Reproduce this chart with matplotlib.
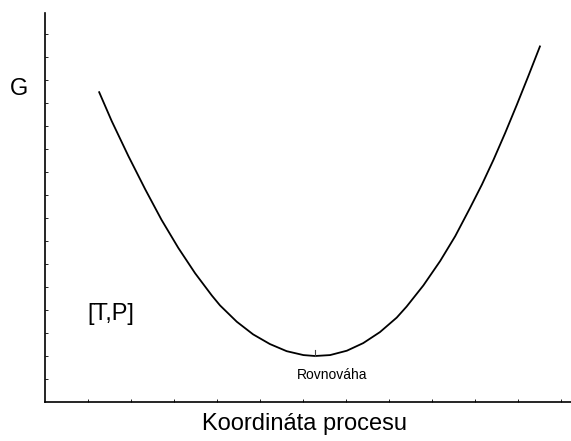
import matplotlib
matplotlib.use('Agg')
from matplotlib import pyplot as plt

plt.rcParams['font.family'] = ['Liberation Sans', 'DejaVu Sans']

# curve (process coordinate, G)
coord = [1.26, 1.55, 1.94, 2.33, 2.71, 3.10, 3.49, 3.88, 4.07, 4.46, 4.84, 5.23, 5.62, 6.01,
         6.28, 6.63, 7.02, 7.40, 7.79, 8.18, 8.41, 8.80, 9.19, 9.54, 9.88, 10.16, 10.43,
         10.70, 10.97, 11.24, 11.51]
gibbs = [13.47, 12.22, 10.69, 9.25, 7.92, 6.70, 5.60, 4.63, 4.20, 3.49, 2.94, 2.52, 2.21, 2.04,
         2.00, 2.04, 2.23, 2.56, 3.04, 3.67, 4.15, 5.07, 6.13, 7.21, 8.42, 9.45, 10.53,
         11.69, 12.91, 14.17, 15.46]

eq_x = 6.28
eq_y = 2.00

W, H = 571, 441
fig = plt.figure(figsize=(W / 100, H / 100), dpi=100)
ax = fig.add_axes([45 / W, (H - 402) / H, (W - 45) / W, (402 - 13) / H])

ax.plot(coord, gibbs, color='black', linewidth=1.3, solid_joinstyle='round')
# small mark at the equilibrium point
ax.plot([eq_x, eq_x], [eq_y, eq_y + 0.27], color='#444444', linewidth=0.8)

ax.set_xlim(0, (W - 45) / 43)
ax.set_ylim(0, (402 - 13) / 23)
ax.set_xticks(range(1, 13))
ax.set_yticks(range(1, 17))
ax.tick_params(direction='in', length=2.5, width=0.6, labelbottom=False, labelleft=False)
ax.spines['top'].set_visible(False)
ax.spines['right'].set_visible(False)
for s in ['left', 'bottom']:
    ax.spines[s].set_linewidth(1.2)

ax.text(5.86, 1.17, 'Rovnováha', fontsize=10, ha='left', va='center')

fig.text(19 / W, 1 - 89 / H, 'G', fontsize=17, ha='center', va='center')
fig.text(87 / W, 1 - 314 / H, '[T,P]', fontsize=17, ha='left', va='center')
fig.text(305 / W, 1 - 424 / H, 'Koordináta procesu', fontsize=17, ha='center', va='center')

fig.savefig('out.png', dpi=100)
